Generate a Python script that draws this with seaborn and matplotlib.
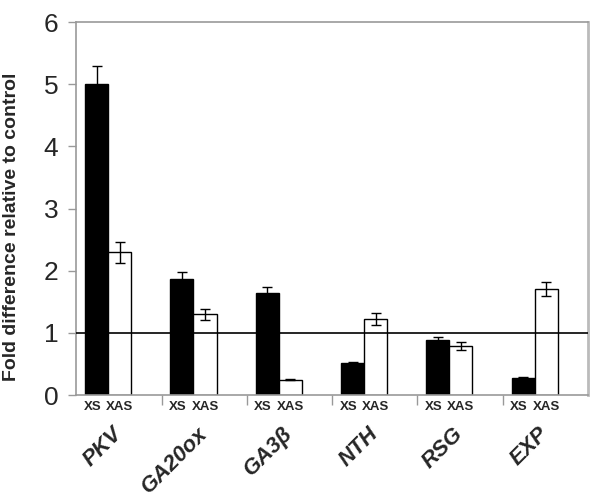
import matplotlib
matplotlib.use('Agg')
import matplotlib.pyplot as plt
import matplotlib.transforms as mtransforms
import seaborn as sns
import pandas as pd

genes = ['PKV', 'GA20ox', 'GA3β', 'NTH', 'RSG', 'EXP']
lines = ['XS', 'XAS']
xs_vals = [5.00, 1.87, 1.64, 0.51, 0.89, 0.28]
xs_err = [0.29, 0.11, 0.10, 0.02, 0.045, 0.01]
xas_vals = [2.30, 1.30, 0.25, 1.22, 0.79, 1.71]
xas_err = [0.17, 0.09, 0.01, 0.095, 0.06, 0.115]

df = pd.DataFrame({
    'gene': genes * 2,
    'line': ['XS'] * len(genes) + ['XAS'] * len(genes),
    'value': xs_vals + xas_vals,
})

sns.set_style('white')
plt.rcParams['font.family'] = ['Liberation Sans', 'DejaVu Sans']

fig, ax = plt.subplots(figsize=(6, 5.04), dpi=100)
fig.subplots_adjust(left=0.127, right=0.98, top=0.956, bottom=0.216)

sns.barplot(data=df, x='gene', y='value', hue='line', hue_order=lines,
            palette=['black', 'white'], edgecolor='black', linewidth=1,
            width=0.54, errorbar=None, legend=False, ax=ax)

# error bars on top of the bars
errs = [xs_err, xas_err]
bar_conts = list(ax.containers)
centers = []
for k, cont in enumerate(bar_conts):
    xc = [b.get_x() + b.get_width() / 2 for b in cont.patches]
    hc = [b.get_height() for b in cont.patches]
    ax.errorbar(xc, hc, yerr=errs[k], fmt='none', ecolor='black',
                elinewidth=1, capsize=3.5, capthick=1, zorder=5)
    centers += xc

ax.axhline(1, color='black', lw=1.2, zorder=4)

ax.set_ylim(0, 6)
ax.set_xlim(-0.375, len(genes) - 0.375)
ax.set_yticks(range(0, 7))
ax.tick_params(axis='y', labelsize=19, length=6, width=1, color='#999999',
               direction='out', pad=7, left=True)

# XS / XAS under each bar
order = sorted(range(len(centers)), key=lambda j: centers[j])
ax.set_xticks([centers[j] for j in order])
ax.set_xticklabels([lines[j // len(genes)] for j in order],
                   fontsize=9.5, fontweight='bold')
ax.tick_params(axis='x', which='major', length=0, pad=4)
# nudge XS a little left so the two labels don't touch
for lab in ax.get_xticklabels():
    if lab.get_text() == 'XS':
        lab.set_transform(lab.get_transform() +
                          mtransforms.ScaledTranslation(-3 / 72, 0, fig.dpi_scale_trans))
ax.set_xticks([i + 0.625 for i in range(len(genes) - 1)], minor=True)
ax.tick_params(axis='x', which='minor', length=7, width=1, color='#999999',
               direction='out', bottom=True)
ax.set_xlabel('')

for i, g in enumerate(genes):
    ax.text(i + 0.04, -0.075, g, transform=ax.get_xaxis_transform(),
            ha='right', va='top', rotation=45, rotation_mode='anchor',
            fontsize=16, fontweight='bold', fontstyle='italic')

ax.set_ylabel('Fold difference relative to control', fontsize=14,
              fontweight='bold')
ax.yaxis.set_label_coords(-0.11, 0.45)

for s in ax.spines.values():
    s.set_visible(True)
    s.set_color('#999999')
    s.set_linewidth(1.2)
ax.spines['right'].set_color('#bbbbbb')
ax.spines['right'].set_linewidth(2)

plt.savefig('out.png', dpi=100)
